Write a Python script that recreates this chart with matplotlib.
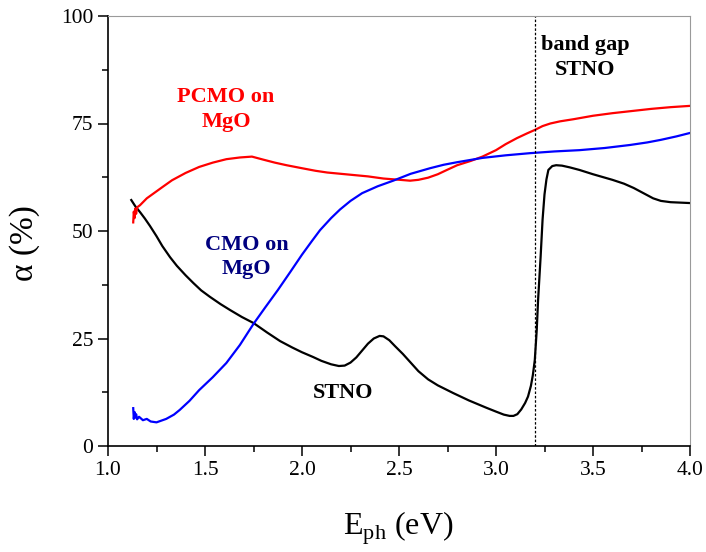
import matplotlib
matplotlib.use("Agg")
import matplotlib.pyplot as plt
from matplotlib.ticker import MultipleLocator

plt.rcParams['font.family'] = ['Liberation Serif', 'DejaVu Serif']
plt.rcParams['mathtext.fontset'] = 'custom'
plt.rcParams['mathtext.rm'] = 'Liberation Serif'

# Absorption spectra (photon energy in eV, absorption in %)
e_stno = [1.12, 1.13, 1.14, 1.165, 1.19, 1.216, 1.25, 1.28, 1.32, 1.355, 1.40,
          1.44, 1.48, 1.525, 1.58, 1.63, 1.69, 1.75, 1.82, 1.887, 1.95, 2.0,
          2.057, 2.1, 2.15, 2.19, 2.22, 2.25, 2.28, 2.31, 2.34, 2.37, 2.40,
          2.42, 2.45, 2.48, 2.52, 2.56, 2.60, 2.65, 2.70, 2.78, 2.86, 2.95,
          3.0, 3.04, 3.07, 3.09, 3.11, 3.13, 3.15, 3.165, 3.18, 3.19, 3.2,
          3.21, 3.217, 3.23, 3.24, 3.25, 3.26, 3.27, 3.29, 3.31, 3.34, 3.38,
          3.43, 3.5, 3.6, 3.66, 3.71, 3.76, 3.81, 3.85, 3.9, 4.0]
a_stno = [57.2, 56.5, 55.8, 54.4, 52.9, 51.2, 48.8, 46.5, 43.9, 41.9, 39.7,
          37.9, 36.2, 34.7, 33.0, 31.6, 30.0, 28.6, 26.4, 24.4, 22.9, 21.8,
          20.7, 19.8, 19.0, 18.6, 18.7, 19.4, 20.6, 22.2, 23.8, 25.0, 25.6,
          25.5, 24.6, 23.2, 21.4, 19.4, 17.4, 15.5, 14.1, 12.3, 10.6, 8.9,
          8.0, 7.3, 7.0, 7.0, 7.4, 8.5, 10.0, 11.5, 14.0, 16.5, 20.0,
          27.0, 34.0, 44.0, 52.6, 58.5, 62.0, 64.2, 65.1, 65.3, 65.2, 64.8,
          64.2, 63.2, 61.9, 61.0, 60.0, 58.8, 57.6, 57.0, 56.7, 56.5]

e_pcmo = [1.13, 1.133, 1.137, 1.14, 1.145, 1.15, 1.165, 1.2, 1.24, 1.28, 1.33,
          1.40, 1.47, 1.54, 1.61, 1.68, 1.742, 1.80, 1.86, 1.92, 2.0, 2.07,
          2.13, 2.2, 2.27, 2.34, 2.42, 2.505, 2.557, 2.6, 2.65, 2.7, 2.747,
          2.8, 2.87, 2.93, 3.0, 3.05, 3.108, 3.16, 3.2, 3.24, 3.28, 3.33,
          3.4, 3.5, 3.6, 3.7, 3.8, 3.9, 4.0]
a_pcmo = [52.0, 54.5, 53.0, 55.2, 54.0, 55.5, 56.0, 57.6, 58.9, 60.2, 61.8,
          63.5, 64.9, 65.9, 66.7, 67.1, 67.3, 66.6, 65.9, 65.3, 64.6, 64.0,
          63.6, 63.3, 63.0, 62.7, 62.2, 61.9, 61.7, 61.9, 62.4, 63.2, 64.2,
          65.3, 66.3, 67.3, 68.8, 70.2, 71.6, 72.7, 73.5, 74.4, 75.0, 75.5,
          76.0, 76.8, 77.4, 77.9, 78.4, 78.8, 79.1]

e_cmo = [1.13, 1.133, 1.137, 1.14, 1.145, 1.15, 1.16, 1.18, 1.2, 1.22, 1.25,
         1.3, 1.34, 1.37, 1.42, 1.47, 1.54, 1.61, 1.68, 1.75, 1.81, 1.876,
         1.94, 2.0, 2.05, 2.093, 2.15, 2.196, 2.25, 2.31, 2.39, 2.47, 2.56,
         2.66, 2.73, 2.8, 2.93, 3.05, 3.175, 3.3, 3.43, 3.56, 3.69, 3.78,
         3.85, 3.93, 4.0]
a_cmo = [8.8, 6.3, 7.9, 6.6, 7.4, 6.2, 6.8, 6.0, 6.3, 5.7, 5.5,
         6.3, 7.3, 8.4, 10.5, 13.0, 16.0, 19.3, 23.5, 28.4, 32.2, 36.3,
         40.5, 44.5, 47.6, 50.2, 53.0, 55.0, 57.0, 58.8, 60.4, 61.7, 63.3,
         64.6, 65.4, 66.0, 67.0, 67.6, 68.1, 68.5, 68.8, 69.3, 70.0, 70.6,
         71.2, 72.0, 72.8]

band_gap = 3.2

x_ticks = [1.0, 1.5, 2.0, 2.5, 3.0, 3.5, 4.0]
y_ticks = [0, 25, 50, 75, 100]

fig = plt.figure(figsize=(7.06, 5.52), dpi=100)
ax = fig.add_axes([108 / 706, 1 - 446 / 552, 582 / 706, 430 / 552])

ax.plot(e_stno, a_stno, color='black', lw=1.6)
ax.plot(e_pcmo, a_pcmo, color='#ff0000', lw=1.6)
ax.plot(e_cmo, a_cmo, color='#0000ff', lw=1.6)
ax.axvline(band_gap, color='black', lw=0.9, ls=(0, (2, 1.5)))

ax.set_xlim(1.0, 4.0)
ax.set_ylim(0, 100)
ax.set_xticks(x_ticks)
ax.set_xticklabels([f"{v:.1f}" for v in x_ticks])
ax.set_yticks(y_ticks)
ax.xaxis.set_minor_locator(MultipleLocator(0.25))
ax.yaxis.set_minor_locator(MultipleLocator(12.5))
ax.tick_params(which='major', direction='out', length=7, width=1.1,
               labelsize=15.5, top=False, right=False)
ax.tick_params(which='minor', direction='out', length=4, width=1.1,
               top=False, right=False)
for side in ('left', 'bottom'):
    ax.spines[side].set_linewidth(1.2)
for side in ('top', 'right'):
    ax.spines[side].set_color('#9a9a9a')
    ax.spines[side].set_linewidth(0.8)

ax.set_xlabel(r'E$_{\mathregular{ph}}$ (eV)', fontsize=23)
ax.set_ylabel('α (%)', fontsize=24)
ax.xaxis.set_label_coords(0.498, -0.148)
ax.yaxis.set_label_coords(-0.117, 0.472)

ax.text(1.608, 78.2, 'PCMO on\nMgO', color='#ff0000', fontsize=16,
        fontweight='bold', ha='center', va='center', linespacing=1.3)
ax.text(1.716, 44.0, 'CMO on\nMgO', color='#00007f', fontsize=16,
        fontweight='bold', ha='center', va='center', linespacing=1.3)
ax.text(2.21, 12.3, 'STNO', color='black', fontsize=16,
        fontweight='bold', ha='center', va='center')
ax.text(3.46, 90.4, 'band gap\nSTNO', color='black', fontsize=16,
        fontweight='bold', ha='center', va='center', linespacing=1.3)

fig.savefig('out.png', dpi=100)
